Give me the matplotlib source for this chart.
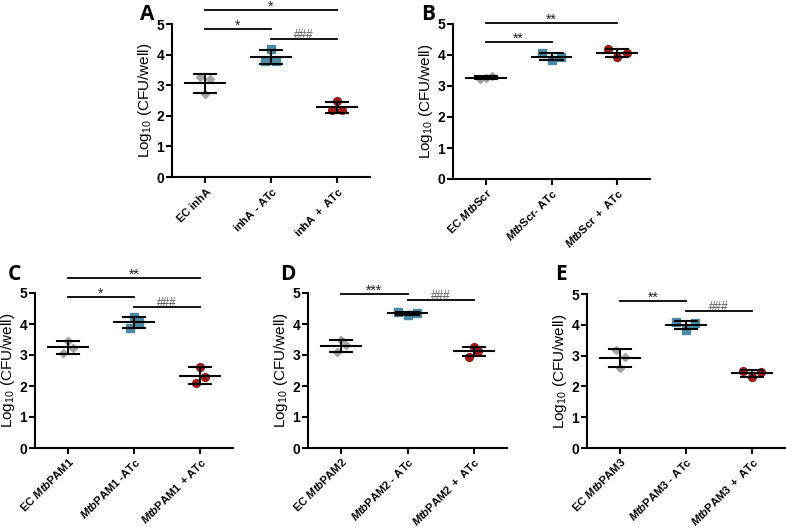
import matplotlib
matplotlib.use("Agg")
import matplotlib.pyplot as plt
import numpy as np

plt.rcParams['font.family'] = ['Liberation Sans', 'DejaVu Sans']
plt.rcParams['mathtext.fontset'] = 'custom'
plt.rcParams['mathtext.rm'] = 'Liberation Sans:bold'
plt.rcParams['mathtext.it'] = 'Liberation Sans:italic:bold'
plt.rcParams['mathtext.bf'] = 'Liberation Sans:bold'
plt.rcParams['mathtext.sf'] = 'Liberation Sans'

# ---------------- data ----------------
labels_A = [r"$\mathrm{EC\ inhA}$", r"$\mathrm{inhA\ \text{-}\ ATc}$", r"$\mathrm{inhA\ +\ ATc}$"]
vals_A = [[3.27, 3.20, 2.70], [3.78, 3.80, 4.18], [2.18, 2.18, 2.49]]

labels_B = [r"$\mathrm{EC\ }\mathit{Mtb}\mathrm{Scr}$", r"$\mathit{Mtb}\mathrm{Scr\text{-}\ ATc}$", r"$\mathit{Mtb}\mathrm{Scr\ +\ ATc}$"]
vals_B = [[3.22, 3.32, 3.27], [4.05, 3.84, 3.95], [4.19, 3.95, 4.05]]

labels_C = [r"$\mathrm{EC\ }\mathit{Mtb}\mathrm{PAM1}$", r"$\mathit{Mtb}\mathrm{PAM1\ \text{-}ATc}$", r"$\mathit{Mtb}\mathrm{PAM1\ +ATc}$"]
vals_C = [[3.46, 3.05, 3.22], [3.86, 4.08, 4.22], [2.62, 2.30, 2.09]]

labels_D = [r"$\mathrm{EC\ }\mathit{Mtb}\mathrm{PAM2}$", r"$\mathit{Mtb}\mathrm{PAM2\ \text{-}\ ATc}$", r"$\mathit{Mtb}\mathrm{PAM2\ +\ ATc}$"]
vals_D = [[3.48, 3.32, 3.10], [4.38, 4.30, 4.36], [2.95, 3.27, 3.12]]

labels_E = [r"$\mathrm{EC\ }\mathit{Mtb}\mathrm{PAM3}$", r"$\mathit{Mtb}\mathrm{PAM3\ \text{-}\ ATc}$", r"$\mathit{Mtb}\mathrm{PAM3\ +\ ATc}$"]
vals_E = [[3.18, 2.94, 2.60], [4.10, 3.84, 4.05], [2.51, 2.30, 2.48]]

# horizontal scatter of points within a group (category units)
jit_A = [[-0.075, 0.075, 0.0], [-0.09, 0.08, 0.0], [-0.075, 0.075, 0.0]]
jit_B = [[-0.09, 0.09, 0.0], [-0.15, 0.0, 0.15], [-0.14, 0.0, 0.15]]
jit_C = [[0.0, -0.075, 0.075], [-0.06, 0.075, 0.0], [0.0, 0.075, -0.06]]
jit_D = [[0.0, 0.075, -0.06], [-0.15, 0.0, 0.15], [-0.075, 0.0, 0.06]]
jit_E = [[-0.06, 0.075, 0.0], [-0.15, 0.0, 0.14], [-0.14, 0.0, 0.14]]

# significance: (x1, x2, y, text)
sig_A = [(0, 2, 5.45, "*"), (0, 1, 4.84, "*"), (1, 2, 4.51, "###")]
sig_B = [(0, 2, 5.03, "**"), (0, 1, 4.42, "**")]
sig_C = [(0, 2, 5.48, "**"), (0, 1, 4.87, "*"), (1, 2, 4.55, "###")]
sig_D = [(0, 1, 4.97, "***"), (1, 2, 4.77, "###")]
sig_E = [(0, 1, 4.77, "**"), (1, 2, 4.45, "###")]

panels = [
    ("A", labels_A, vals_A, jit_A, sig_A, (172, 24, 370, 177)),
    ("B", labels_B, vals_B, jit_B, sig_B, (453, 24, 650, 179)),
    ("C", labels_C, vals_C, jit_C, sig_C, (35, 293, 233, 448)),
    ("D", labels_D, vals_D, jit_D, sig_D, (308, 293, 507, 448)),
    ("E", labels_E, vals_E, jit_E, sig_E, (587, 294, 785, 448)),
]
letter_pos = {"A": (140, 14), "B": (421, 14), "C": (8, 274), "D": (280, 274), "E": (555, 275)}

colors = ["#a3a3a3", "#4d8aa6", "#9e1b1b"]
markers = ["D", "s", "o"]
msizes = [4.2, 5.2, 5.6]

W, H = 786, 527
fig = plt.figure(figsize=(W / 100, H / 100), dpi=100)

for name, labels, vals, jits, sigs, (l, t, r, b) in panels:
    ax = fig.add_axes([l / W, 1 - b / H, (r - l) / W, (b - t) / H])
    for i, v in enumerate(vals):
        v = np.array(v)
        xs = i + np.array(jits[i])
        ax.plot(xs, v, linestyle='none',
                marker=markers[i], color=colors[i], ms=msizes[i],
                markeredgecolor=colors[i], zorder=2, clip_on=False)
        m = v.mean()
        s = v.std(ddof=1)
        ax.plot([i - 0.3, i + 0.3], [m, m], color='black', lw=1.5, zorder=3)
        ax.plot([i, i], [m - s, m + s], color='black', lw=1.5, zorder=3)
        ax.plot([i - 0.17, i + 0.17], [m + s, m + s], color='black', lw=1.5, zorder=3)
        ax.plot([i - 0.17, i + 0.17], [m - s, m - s], color='black', lw=1.5, zorder=3)
    for x1, x2, y, txt in sigs:
        ax.plot([x1, x2], [y, y], color='black', lw=1.3, clip_on=False)
        if txt.startswith('#'):
            ax.text((x1 + x2) / 2, y + 0.04, txt, ha='center', va='baseline',
                    fontsize=8.5, color='#555555', clip_on=False)
        else:
            ax.text((x1 + x2) / 2, y - 0.02, txt, ha='center', va='baseline',
                    fontsize=10, color='#222222', clip_on=False)
    ax.set_xlim(-0.5, 2.5)
    ax.set_ylim(0, 5)
    ax.set_yticks([0, 1, 2, 3, 4, 5])
    ax.set_yticklabels(["0", "1", "2", "3", "4", "5"], fontweight='bold', fontsize=10)
    ax.set_xticks([0, 1, 2])
    ax.set_xticklabels(labels, rotation=45, ha='right', rotation_mode='anchor', fontsize=8)
    for sp in ['top', 'right']:
        ax.spines[sp].set_visible(False)
    for sp in ['left', 'bottom']:
        ax.spines[sp].set_linewidth(1.5)
    ax.tick_params(axis='both', direction='out', length=4, width=1.5, pad=1.5)
    ax.set_ylabel(r"Log$_{\mathsf{10}}$ (CFU/well)", fontsize=11, labelpad=2)
    lx, ly = letter_pos[name]
    fig.text(lx / W, 1 - ly / H, name, fontsize=15, fontweight='bold',
             family='Open Sans', ha='left', va='center')

fig.savefig("out.png", dpi=100)
